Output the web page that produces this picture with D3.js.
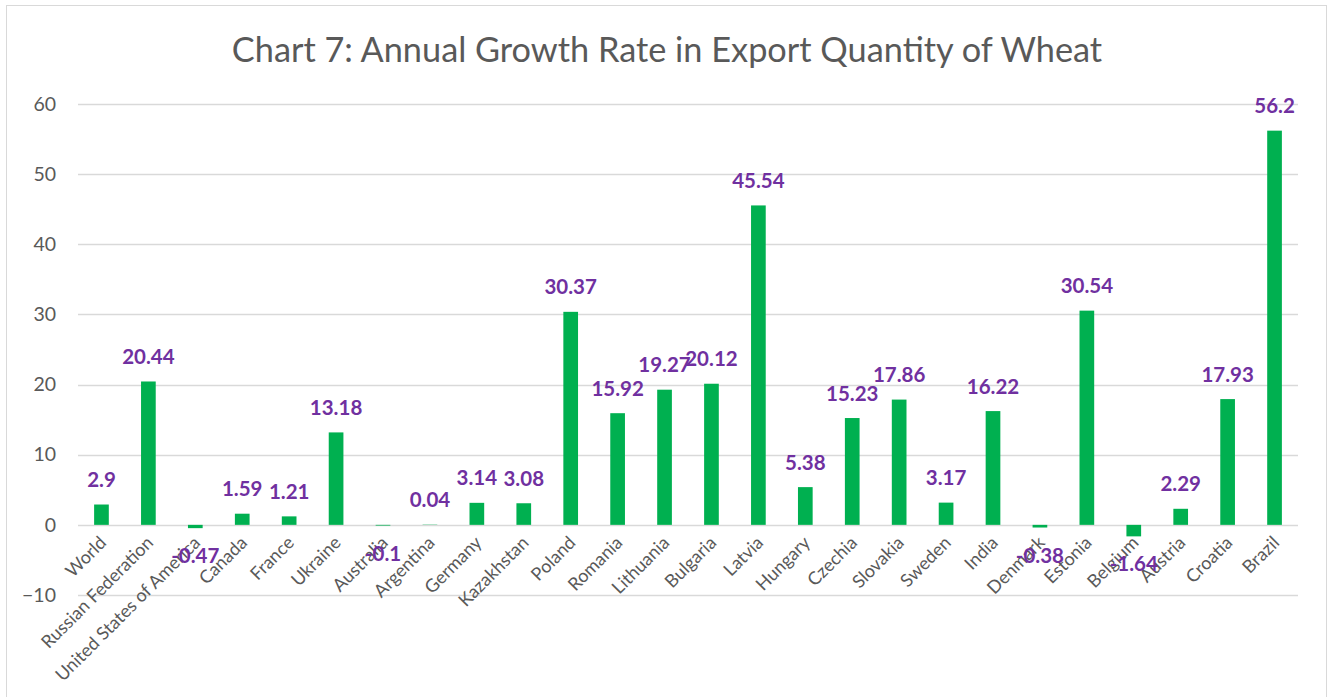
<!DOCTYPE html>
<html>
<head>
<meta charset="utf-8">
<script src="https://cdn.jsdelivr.net/npm/d3@7"></script>
<style>
  body { margin: 0; background: #fff; }
  text { font-family: Lato, "Open Sans", sans-serif; }
</style>
</head>
<body>
<script>
// Countries along the x axis
const countries = [
  'World', 'Russian Federation', 'United States of America', 'Canada', 'France',
  'Ukraine', 'Australia', 'Argentina', 'Germany', 'Kazakhstan', 'Poland',
  'Romania', 'Lithuania', 'Bulgaria', 'Latvia', 'Hungary', 'Czechia',
  'Slovakia', 'Sweden', 'India', 'Denmark', 'Estonia', 'Belgium', 'Austria',
  'Croatia', 'Brazil'
];

// Annual growth rate (%) in export quantity of wheat
const growthRates = [
  2.9, 20.44, -0.47, 1.59, 1.21, 13.18, -0.1, 0.04, 3.14, 3.08, 30.37,
  15.92, 19.27, 20.12, 45.54, 5.38, 15.23, 17.86, 3.17, 16.22, -0.38,
  30.54, -1.64, 2.29, 17.93, 56.2
];

// Value axis ticks
const yTicks = [-10, 0, 10, 20, 30, 40, 50, 60];

const chartTitle = 'Chart 7: Annual Growth Rate in Export Quantity of Wheat';

const width = 1330;
const height = 697;
const margin = { top: 104, right: 32, bottom: 102, left: 78 };

const svg = d3.select('body')
  .append('svg')
  .attr('width', width)
  .attr('height', height);

// Chart frame
svg.append('rect')
  .attr('x', 6.5)
  .attr('y', 5.5)
  .attr('width', 1320)
  .attr('height', 700)
  .attr('fill', '#fff')
  .attr('stroke', '#d9d9d9')
  .attr('stroke-width', 1);

const x = d3.scaleBand()
  .domain(countries)
  .range([margin.left, width - margin.right])
  .paddingInner(0.687)
  .paddingOuter(0.3435);

const y = d3.scaleLinear()
  .domain([-10, 60])
  .range([height - margin.bottom, margin.top]);

// Horizontal gridlines
svg.append('g')
  .selectAll('line')
  .data(yTicks)
  .join('line')
  .attr('x1', margin.left)
  .attr('x2', width - margin.right)
  .attr('y1', d => Math.round(y(d)) + 0.5)
  .attr('y2', d => Math.round(y(d)) + 0.5)
  .attr('stroke', '#d9d9d9')
  .attr('stroke-width', 1.5);

// Y axis labels, no axis line
const yAxis = svg.append('g')
  .attr('transform', `translate(${margin.left - 22},0)`)
  .call(d3.axisLeft(y).tickValues(yTicks).tickSize(0).tickPadding(0));
yAxis.select('.domain').remove();
yAxis.selectAll('text')
  .attr('font-size', 19.5)
  .attr('font-family', 'Lato, sans-serif')
  .attr('fill', '#595959');

const data = countries.map((c, i) => ({ country: c, value: growthRates[i] }));

// Bars
svg.append('g')
  .selectAll('rect')
  .data(data)
  .join('rect')
  .attr('x', d => x(d.country))
  .attr('width', x.bandwidth())
  .attr('y', d => y(Math.max(0, d.value)))
  .attr('height', d => Math.abs(y(d.value) - y(0)))
  .attr('fill', '#00b050');

// Category labels, rotated
svg.append('g')
  .selectAll('text')
  .data(countries)
  .join('text')
  .attr('transform', d => `translate(${x(d) + x.bandwidth() / 2 + 6},${y(0) + 19}) rotate(-45)`)
  .attr('text-anchor', 'end')
  .attr('font-size', 18)
  .attr('fill', '#595959')
  .text(d => d);

// Data labels
svg.append('g')
  .selectAll('text')
  .data(data)
  .join('text')
  .attr('x', d => x(d.country) + x.bandwidth() / 2)
  .attr('y', d => d.value >= 0 ? y(d.value) - 17.5 : y(d.value) + 35)
  .attr('text-anchor', 'middle')
  .attr('font-size', 20.5)
  .attr('font-weight', 'bold')
  .attr('fill', '#7030a0')
  .text(d => d.value);

// Title
svg.append('text')
  .attr('x', 667)
  .attr('y', 62)
  .attr('text-anchor', 'middle')
  .attr('font-size', 34.3)
  .attr('fill', '#595959')
  .text(chartTitle);
</script>
</body>
</html>
